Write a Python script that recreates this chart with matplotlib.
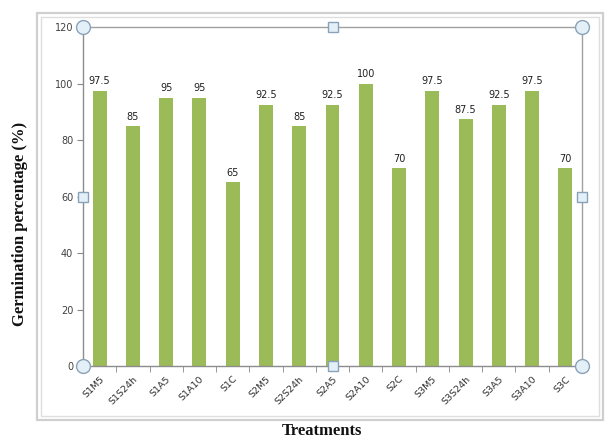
import matplotlib
matplotlib.use("Agg")
import matplotlib.pyplot as plt
from matplotlib.patches import Rectangle
import numpy as np

treatments = ["S1M5", "S1S24h", "S1A5", "S1A10", "S1C",
              "S2M5", "S2S24h", "S2A5", "S2A10", "S2C",
              "S3M5", "S3S24h", "S3A5", "S3A10", "S3C"]
germination = [97.5, 85, 95, 95, 65,
               92.5, 85, 92.5, 100, 70,
               97.5, 87.5, 92.5, 97.5, 70]
y_ticks = [0, 20, 40, 60, 80, 100, 120]

W, H = 614, 441
fig = plt.figure(figsize=(W / 100, H / 100), dpi=100)
fig.patch.set_facecolor("white")

def fx(px):
    return px / W

def fy(py):
    return 1 - py / H

# chart frame (double border)
for inset, col, lw in [(0, "#cfcfcf", 1.6), (4, "#dedede", 1.0)]:
    fig.patches.append(Rectangle((fx(37 + inset), fy(420 - inset)),
                                 fx(603 - 37 - 2 * inset), (420 - 13 - 2 * inset) / H,
                                 transform=fig.transFigure, fill=False,
                                 edgecolor=col, linewidth=lw, zorder=0))

ax = fig.add_axes([fx(83), fy(366), fx(582 - 83), (366 - 27) / H])
x = np.arange(len(treatments))
bars = ax.bar(x, germination, width=0.42, color="#9bbb59", zorder=2)

for xi, v in zip(x, germination):
    ax.text(xi, v + 1.5, f"{v:g}", ha="center", va="bottom",
            fontsize=7, color="#202020")

ax.set_xlim(-0.5, len(treatments) - 0.5)
ax.set_ylim(0, 120)
ax.set_yticks(y_ticks)
ax.set_yticklabels([str(t) for t in y_ticks], fontsize=7, color="#404040")
ax.set_xticks(x)
ax.set_xticklabels(treatments, rotation=45, ha="right", rotation_mode="anchor",
                   fontsize=6.8, color="#303030")
ax.tick_params(axis="x", which="major", length=0, pad=6)
ax.set_xticks(np.arange(-0.5, len(treatments)), minor=True)
ax.tick_params(axis="x", which="minor", length=4, color="#888888")
ax.tick_params(axis="y", length=4, color="#888888", pad=3)

for s in ax.spines.values():
    s.set_color("#a0a0a0")
    s.set_linewidth(1.0)
ax.spines["left"].set_color("#8c8c8c")
ax.spines["bottom"].set_color("#8c8c8c")

# selection handles on the plot area
hkw = dict(transform=ax.transAxes, clip_on=False, linestyle="none",
           markerfacecolor="#e4f0f8", markeredgecolor="#8aa2b8",
           markeredgewidth=1.0, zorder=5)
ax.plot([0, 1, 0, 1], [0, 0, 1, 1], marker="o", markersize=10, **hkw)
ax.plot([0.5, 0.5, 0, 1], [0, 1, 0.5, 0.5], marker="s", markersize=7, **hkw)

fig.text(fx(20), fy(224), "Germination percentage (%)", rotation=90,
         ha="center", va="center", fontsize=12, fontweight="bold",
         family="Liberation Serif", color="#111111")
fig.text(fx(322), fy(431), "Treatments", ha="center", va="center",
         fontsize=12, fontweight="bold", family="Liberation Serif",
         color="#111111")

fig.savefig("out.png", dpi=100, facecolor="white")
